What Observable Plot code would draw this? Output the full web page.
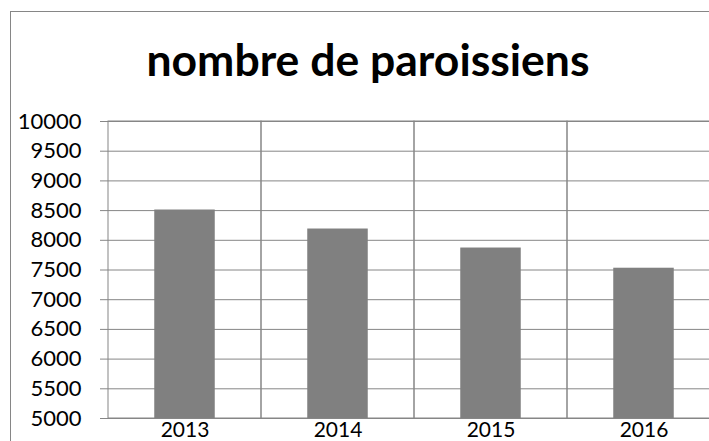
<!DOCTYPE html>
<html>
<head>
<meta charset="utf-8">
<script src="https://cdn.jsdelivr.net/npm/d3@7"></script>
<script src="https://cdn.jsdelivr.net/npm/@observablehq/plot@0.6"></script>
<style>
  html, body { margin: 0; padding: 0; background: #fff; overflow: hidden; }
  #wrap { position: absolute; left: 0; top: 0; width: 709px; height: 441px; overflow: hidden; }
  #frame { position: absolute; left: 10px; top: 11px; width: 730px; height: 460px; border: 1px solid #868686; box-sizing: border-box; }
  #title { position: absolute; left: 10px; width: 716px; top: 37px; text-align: center;
           font: bold 44.5px Lato, sans-serif; line-height: 44px; color: #000; white-space: nowrap; }
  #plot { position: absolute; left: 0; top: 0; width: 740px; }
  #plot svg { max-width: none !important; width: 740px !important; height: 441px !important; }
</style>
</head>
<body>
<div id="wrap">
  <div id="frame"></div>
  <div id="title">nombre de paroissiens</div>
  <div id="plot"></div>
</div>
<script>
const years = ["2013", "2014", "2015", "2016"];
const paroissiens = [8510, 8190, 7870, 7530];
const yTicks = [5000, 5500, 6000, 6500, 7000, 7500, 8000, 8500, 9000, 9500, 10000];
const yMin = 5000, yMax = 10000;

const data = years.map((y, i) => ({year: y, value: paroissiens[i]}));
const gridColor = "#868686";

const chart = Plot.plot({
  width: 740,
  height: 441,
  marginLeft: 107,
  marginRight: 19,
  marginTop: 121,
  marginBottom: 23,
  style: {fontFamily: "Lato, sans-serif", background: "transparent", color: "#000", maxWidth: "none"},
  x: {domain: years, padding: 0},
  y: {domain: [yMin, yMax]},
  marks: [
    Plot.ruleY(yTicks, {y: d => d, stroke: gridColor, strokeWidth: 1, insetLeft: -7}),
    Plot.barY(years, {x: d => d, y1: yMin, y2: yMax, fill: "none", stroke: gridColor, strokeWidth: 1}),
    Plot.barY(data, {x: "year", y1: yMin, y2: "value", fill: "#808080", insetLeft: 46.25, insetRight: 46.25}),
    Plot.axisY(yTicks, {tickSize: 0, tickPadding: 26, fontSize: 22, tickFormat: d => String(d), label: null, fill: "#000"}),
    Plot.axisX({tickSize: 0, tickPadding: 4, fontSize: 21, label: null, fill: "#000"})
  ]
});
document.getElementById("plot").appendChild(chart);
</script>
</body>
</html>
